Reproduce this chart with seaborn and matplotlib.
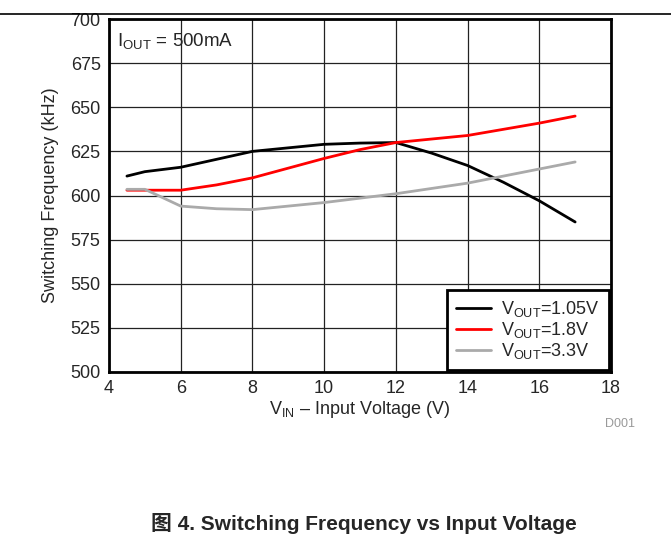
import numpy as np
import pandas as pd
import matplotlib
matplotlib.use('Agg')
import matplotlib.pyplot as plt
import seaborn as sns

vin = [4.5, 5, 6, 7, 8, 9, 10, 11, 12, 13, 14, 15, 16, 17]
f_105 = [611, 613.5, 616, 620.5, 625, 627, 629, 629.7, 630, 624, 617, 607.5, 597, 585]
f_18 = [603, 603, 603, 606, 610, 615.5, 621, 626, 630, 632, 634, 637.5, 641, 645]
f_33 = [603.5, 603.5, 594, 592.5, 592, 594, 596, 598.5, 601, 604, 607, 611, 615, 619]
labels = ['V$_{\\mathregular{OUT}}$=1.05V', 'V$_{\\mathregular{OUT}}$=1.8V', 'V$_{\\mathregular{OUT}}$=3.3V']
colors = ['black', '#ff0000', '#aaaaaa']

sns.set_style('white')
plt.rcParams['font.family'] = ['Liberation Sans', 'Noto Sans CJK SC', 'DejaVu Sans']
plt.rcParams['mathtext.fontset'] = 'custom'
plt.rcParams['mathtext.rm'] = 'Liberation Sans'

df = pd.DataFrame({
    'vin': vin * 3,
    'freq': f_105 + f_18 + f_33,
    'series': [labels[0]] * len(vin) + [labels[1]] * len(vin) + [labels[2]] * len(vin),
})

fig = plt.figure(figsize=(6.71, 5.39), dpi=100)
ax = fig.add_axes([109 / 671, 1 - 372 / 539, 502 / 671, 353 / 539])

sns.lineplot(data=df, x='vin', y='freq', hue='series', palette=colors,
             linewidth=2, ax=ax)

ax.set_xlim(4, 18)
ax.set_ylim(500, 700)
ax.set_xticks(np.arange(4, 19, 2))
ax.set_yticks(np.arange(500, 701, 25))
ax.grid(True, color='#222222', linewidth=0.9)
ax.set_axisbelow(True)
for s in ax.spines.values():
    s.set_linewidth(2)
    s.set_color('black')
ax.tick_params(labelsize=13, length=0, pad=6)
ax.set_xlabel('V$_{\\mathregular{IN}}$ \u2013 Input Voltage (V)', fontsize=13, labelpad=1)
ax.set_ylabel('Switching Frequency (kHz)', fontsize=13, labelpad=8)

ax.text(0.015, 0.935, 'I$_{\\mathregular{OUT}}$ = 500mA', transform=ax.transAxes,
        fontsize=13.5, va='center', ha='left')

leg = ax.legend(loc='lower right', fontsize=13, frameon=True, fancybox=False,
                borderaxespad=0.1, handlelength=1.95, labelspacing=0.05,
                borderpad=0.5, handletextpad=0.55)
leg.get_frame().set_edgecolor('black')
leg.get_frame().set_linewidth(2)
leg.get_frame().set_alpha(1)
leg.set_title(None)

fig.add_artist(plt.Line2D([0, 1], [1 - 14 / 539, 1 - 14 / 539], color='black', linewidth=1.2))
fig.text(620 / 671, 1 - 424 / 539, 'D001', color='#999999', fontsize=9, ha='center', va='center')
fig.text(364 / 671, 1 - 524 / 539, '图 4. Switching Frequency vs Input Voltage',
         fontsize=15, fontweight='bold', ha='center', va='center')

fig.savefig('out.png', dpi=100)
